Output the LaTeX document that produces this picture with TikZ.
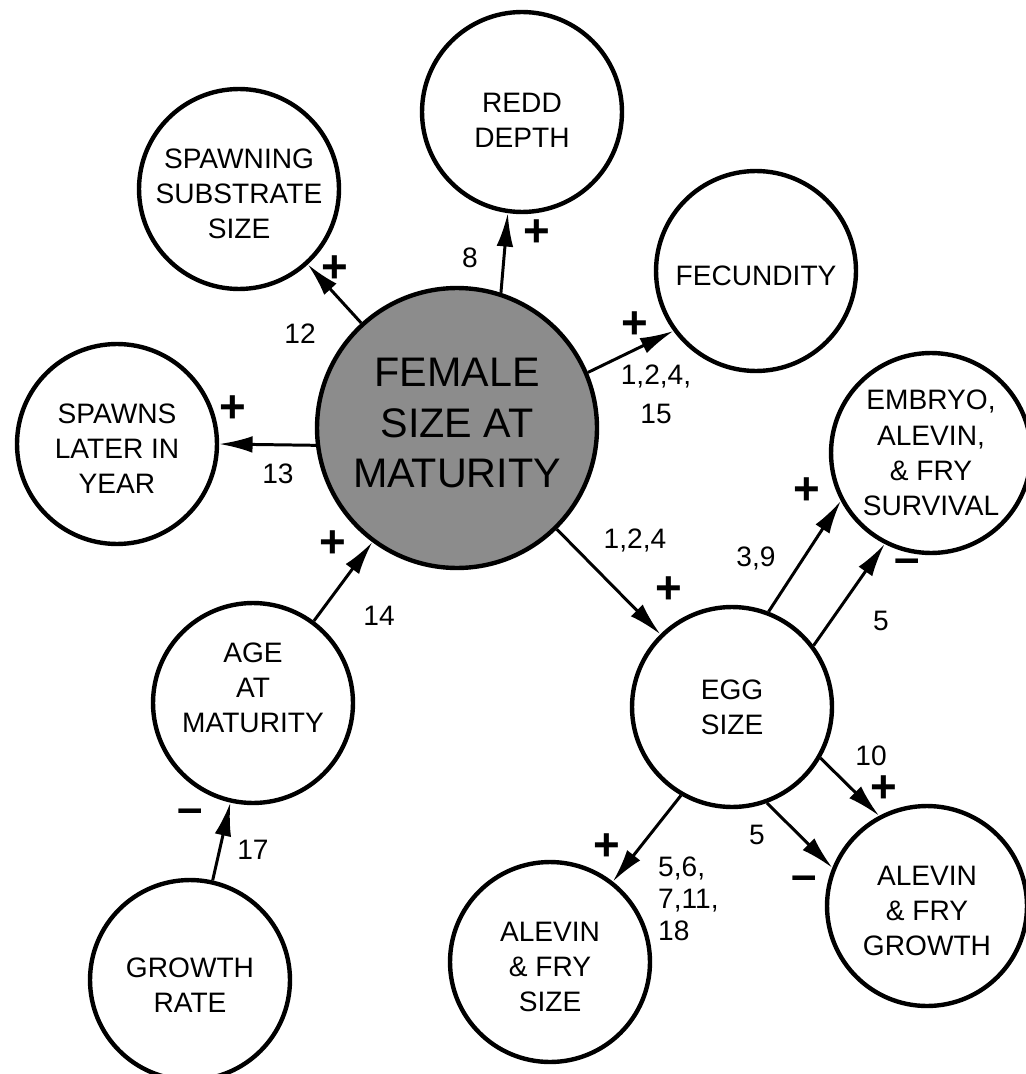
\documentclass[tikz,border=0pt]{standalone}
\usepackage{fontspec}
\setmainfont{Liberation Sans}
\usetikzlibrary{arrows.meta}

\tikzset{
  blob/.style={circle, draw, line width=2.5pt, minimum size=4cm, inner sep=0pt},
  blobtxt/.style={align=center, font=\fontsize{16}{20}\selectfont, yshift=-0.1cm},
  link/.style={line width=1.7pt, -{Latex[length=19pt,width=9.5pt]}},
  num/.style={font=\fontsize{16}{18}\selectfont},
  sgn/.style={font=\fontsize{26}{26}\bfseries},
}

\begin{document}
\begin{tikzpicture}[x=0.02cm, y=-0.02cm]
\useasboundingbox (0,0) rectangle (1026,1074);

% factors
\node[blob, fill=black!45, minimum size=5.6cm,
  label={[blobtxt, font=\fontsize{23.5}{28.5}\selectfont, yshift=0.2cm]center:FEMALE\\SIZE AT\\MATURITY}] (female) at (457,428) {};
\node[blob, label={[blobtxt]center:SPAWNING\\SUBSTRATE\\SIZE}] (spawning) at (239,189) {};
\node[blob, label={[blobtxt, yshift=-0.06cm]center:REDD\\DEPTH}] (redd) at (522,112) {};
\node[blob, label={[blobtxt]center:FECUNDITY}] (fecundity) at (756,271) {};
\node[blob, label={[blobtxt]center:SPAWNS\\LATER IN\\YEAR}] (spawns) at (117,444) {};
\node[blob, label={[blobtxt, yshift=0.1cm]center:EMBRYO,\\ALEVIN,\\\& FRY\\SURVIVAL}] (embryo) at (931,453) {};
\node[blob, label={[blobtxt, yshift=0.1cm]center:EGG\\SIZE}] (egg) at (732,707) {};
\node[blob, label={[blobtxt, yshift=0.4cm]center:AGE\\AT\\MATURITY}] (age) at (253,703) {};
\node[blob, label={[blobtxt]center:GROWTH\\RATE}] (growthrate) at (190,980) {};
\node[blob, label={[blobtxt]center:ALEVIN\\\& FRY\\SIZE}] (afsize) at (550,962) {};
\node[blob, label={[blobtxt]center:ALEVIN\\\& FRY\\GROWTH}] (afgrowth) at (927,906) {};

% links
\draw[link] (female) -- (spawning);
\draw[link] (female.72) -- (redd.262);
\draw[link] (female.23) -- (fecundity.216);
\draw[link] (female.187) -- (spawns.east);
\draw[link] (female) -- (egg);
\draw[link] (age) -- (female);
\draw[link] (growthrate) -- (age);
\draw[link] (egg.69) -- (embryo.208);
\draw[link] (egg.37) -- (embryo.243);
\draw[link] (egg.-30) -- (afgrowth.118);
\draw[link] (egg.-70) -- (afgrowth.158);
\draw[link] (egg.240) -- (afsize.52);

% signs and references
\node[sgn] (p12) at (335,269) {+};
\node[num] (n12) at (300,334) {12};
\node[num] (n8) at (470,258) {8};
\node[sgn] (p8) at (537,233) {+};
\node[sgn] (pfec) at (635,325) {+};
\node[num, align=center, font=\fontsize{16}{22}\selectfont] (nfec) at (656,394) {1,2,4,\\15};
\node[sgn] (p13) at (233,409) {+};
\node[num] (n13) at (278,474) {13};
\node[sgn] (p14) at (333,544) {+};
\node[num] (n14) at (379,616) {14};
\node[num] (negg) at (635,540) {1,2,4};
\node[sgn] (pegg) at (669,590) {+};
\node[num] (n39) at (756,558) {3,9};
\node[sgn] (p39) at (807,491) {+};
\node[sgn] (m5a) at (907,566) {--};
\node[num] (n5a) at (881,621) {5};
\node[num] (n10) at (871,756) {10};
\node[sgn] (p10) at (884,789) {+};
\node[num] (n5b) at (757,835) {5};
\node[sgn] (m5b) at (804,883) {--};
\node[sgn] (psize) at (607,847) {+};
\node[num, align=left, anchor=north west] (nsize) at (652,851) {5,6,\\7,11,\\18};
\node[sgn] (m17) at (190,816) {--};
\node[num] (n17) at (253,850) {17};
\end{tikzpicture}
\end{document}
